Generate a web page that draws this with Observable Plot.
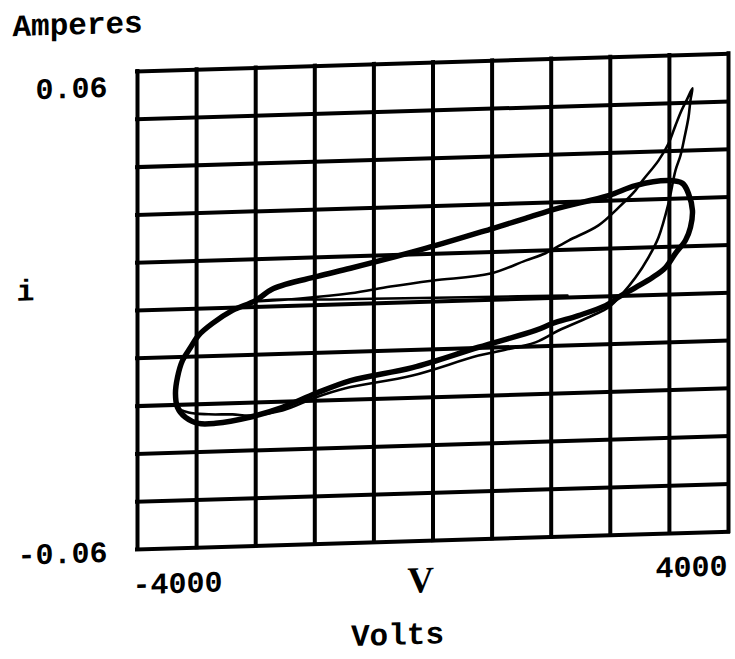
<!DOCTYPE html>
<html><head><meta charset="utf-8">
<script src="https://cdn.jsdelivr.net/npm/d3@7"></script>
<script src="https://cdn.jsdelivr.net/npm/@observablehq/plot@0.6"></script>
<style>
html,body{margin:0;padding:0;background:#fff;}
#chart svg{display:block;transform:skewY(-1.72deg);transform-origin:137px 0;overflow:visible}
</style>
</head><body><div id="chart"></div>
<script>
// Axis limits / grid (10 x 10 Mathcad-style grid)
const xGridVolts = [-4000, -3200, -2400, -1600, -800, 0, 800, 1600, 2400, 3200, 4000];
const yGridAmps = [-0.06, -0.048, -0.036, -0.024, -0.012, 0, 0.012, 0.024, 0.036, 0.048, 0.06];
const xTickVolts = [-4000, 4000];
const xTickLabels = ["-4000", "4000"];
const yTickAmps = [0.06, -0.06];
const yTickLabels = ["0.06", "-0.06"];
const yTitle = "Amperes";
const yVar = "i";
const xVar = "V";
const xUnit = "Volts";

// Thick steady-state hysteresis loop (closed)
const loopVolts = [3188, 2741, 2375, 1699, 1252, 805, -102, -1117, -1564, -2159, -2403, -2714, -2985, -3174, -3283, -3391, -3459, -3486, -3459, -3350, -3174, -2944, -2498, -2037, -1591, -1117, -278, 616, 1387, 1617, 1969, 2335, 2511, 2741, 2971, 3147, 3282, 3418, 3485, 3512, 3458, 3377];
const loopAmps = [0.0286, 0.0276, 0.0253, 0.0225, 0.0202, 0.0179, 0.0134, 0.0090, 0.0072, 0.0045, 0.0016, -0.0007, -0.0038, -0.0067, -0.0097, -0.0129, -0.0171, -0.0211, -0.0246, -0.0272, -0.0288, -0.0289, -0.0277, -0.0254, -0.0222, -0.0192, -0.0164, -0.0118, -0.0080, -0.0064, -0.0046, -0.0023, -0.0003, 0.0020, 0.0044, 0.0068, 0.0103, 0.0135, 0.0167, 0.0209, 0.0252, 0.0278];

// Thin first-cycle trace with the current spike
const traceVolts = [1820, 643, -169, -1388, -2335, -2714, -2985, -3174, -3283, -3391, -3459, -3486, -3459, -3310, -3039, -2714, -2471, -2037, -1591, -1185, -278, 616, 1387, 1699, 2159, 2375, 2565, 2741, 2917, 3052, 3188, 3282, 3350, 3404, 3458, 3485, 3512, 3445, 3364, 3282, 3188, 3052, 2836, 2741, 2511, 2240, 1834, 1523, 1252, 778, 7, -575, -1117, -1794, -2430];
const traceAmps = [0.0005, 0.0008, 0.0010, 0.0013, 0.0015, -0.0007, -0.0038, -0.0067, -0.0097, -0.0129, -0.0171, -0.0211, -0.0246, -0.0260, -0.0266, -0.0268, -0.0272, -0.0262, -0.0232, -0.0211, -0.0184, -0.0139, -0.0110, -0.0082, -0.0047, -0.0028, 0.0006, 0.0045, 0.0095, 0.0144, 0.0229, 0.0311, 0.0348, 0.0393, 0.0443, 0.0486, 0.0516, 0.0491, 0.0461, 0.0424, 0.0379, 0.0337, 0.0288, 0.0264, 0.0222, 0.0179, 0.0143, 0.0113, 0.0096, 0.0066, 0.0053, 0.0041, 0.0027, 0.0018, 0.0014];

const loop = loopVolts.map((v, k) => ({v, a: loopAmps[k]}));
const trace = traceVolts.map((v, k) => ({v, a: traceAmps[k]}));

const mono = "'Liberation Mono', 'DejaVu Sans Mono', monospace";
const chart = Plot.plot({
  width: 735, height: 659,
  marginLeft: 137, marginRight: 7, marginTop: 71, marginBottom: 110,
  x: {domain: [-4000, 4000], axis: null, label: null},
  y: {domain: [-0.06, 0.06], axis: null, label: null},
  style: {fontFamily: mono, fontSize: "30px", fontWeight: "bold", background: "#fff", color: "#000", overflow: "visible"},
  marks: [
    Plot.ruleX(xGridVolts, {stroke: "#000", strokeWidth: 4, strokeLinecap: "square"}),
    Plot.ruleY(yGridAmps, {stroke: "#000", strokeWidth: 4, strokeLinecap: "square"}),
    Plot.line(trace, {x: "v", y: "a", stroke: "#000", strokeWidth: 2.6, curve: "catmull-rom"}),
    Plot.line(loop, {x: "v", y: "a", stroke: "#000", strokeWidth: 5.5, curve: "catmull-rom-closed"}),
    Plot.axisY([yTickAmps[0]], {tickSize: 0, tickPadding: 30, dy: 15, label: null, fontSize: 30, fontFamily: mono, fontWeight: "bold",
      tickFormat: d => yTickLabels[yTickAmps.indexOf(d)]}),
    Plot.axisY([yTickAmps[1]], {tickSize: 0, tickPadding: 30, dy: 2, label: null, fontSize: 30, fontFamily: mono, fontWeight: "bold",
      tickFormat: d => yTickLabels[yTickAmps.indexOf(d)]}),
    Plot.axisX([xTickVolts[0]], {tickSize: 0, tickPadding: 35, lineAnchor: "middle", textAnchor: "start", dx: -5, label: null, fontSize: 30, fontFamily: mono, fontWeight: "bold",
      tickFormat: d => xTickLabels[xTickVolts.indexOf(d)]}),
    Plot.axisX([xTickVolts[1]], {tickSize: 0, tickPadding: 34, lineAnchor: "middle", textAnchor: "end", dx: -1, label: null, fontSize: 30, fontFamily: mono, fontWeight: "bold",
      tickFormat: d => xTickLabels[xTickVolts.indexOf(d)]}),
    Plot.text([yTitle], {frameAnchor: "top-left", dx: -125, dy: -49, textAnchor: "start", lineAnchor: "middle", fontSize: 31, fontFamily: mono, fontWeight: "bold"}),
    Plot.text([yVar], {frameAnchor: "left", dx: -112, dy: -23, textAnchor: "middle", lineAnchor: "middle", fontSize: 30, fontFamily: mono, fontWeight: "bold"}),
    Plot.text([xVar], {frameAnchor: "bottom", dx: -12.5, dy: 39.5, textAnchor: "middle", lineAnchor: "middle", fontSize: 37, fontFamily: "'Liberation Serif', serif", fontWeight: "bold"}),
    Plot.text([xUnit], {frameAnchor: "bottom", dx: -35.5, dy: 93, textAnchor: "middle", lineAnchor: "middle", fontSize: 31, fontFamily: mono, fontWeight: "bold"})
  ]
});
document.getElementById("chart").appendChild(chart);
</script>
</body></html>
